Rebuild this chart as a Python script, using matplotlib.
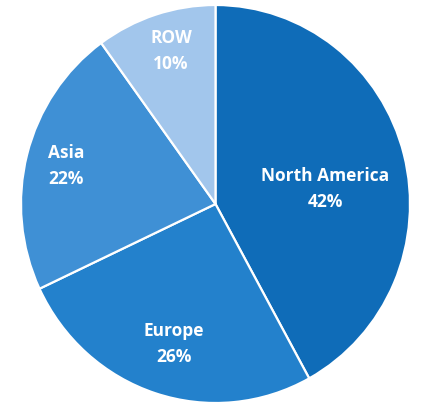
import matplotlib
matplotlib.use('Agg')
import matplotlib.pyplot as plt

# Dados do gráfico
regions = ['North America', 'Europe', 'Asia', 'ROW']
shares = [42, 26, 22, 10]
colors = ['#0f6cb8', '#2381cc', '#3f90d5', '#a2c6ec']

# posição dos rótulos (coordenadas da pizza, raio 1)
label_pos = [(0.563, 0.075), (-0.213, -0.704), (-0.769, 0.191), (-0.229, 0.769)]

W, H = 425, 405
fig = plt.figure(figsize=(W / 100, H / 100), dpi=100)
ax = fig.add_axes([21 / W, (H - 403) / H, 389 / W, 398 / H])

ax.pie(shares, colors=colors, startangle=90, counterclock=False,
       wedgeprops={'edgecolor': 'white', 'linewidth': 1.6})
ax.set_aspect('auto')
ax.set_xlim(-1, 1)
ax.set_ylim(-1, 1)
ax.axis('off')

for name, val, (x, y) in zip(regions, shares, label_pos):
    ax.text(x, y, f"{name}\n{val}%", ha='center', va='center', color='white',
            fontsize=12.5, fontweight='bold', family='Open Sans', linespacing=1.62)

fig.savefig('out.png', dpi=100)
